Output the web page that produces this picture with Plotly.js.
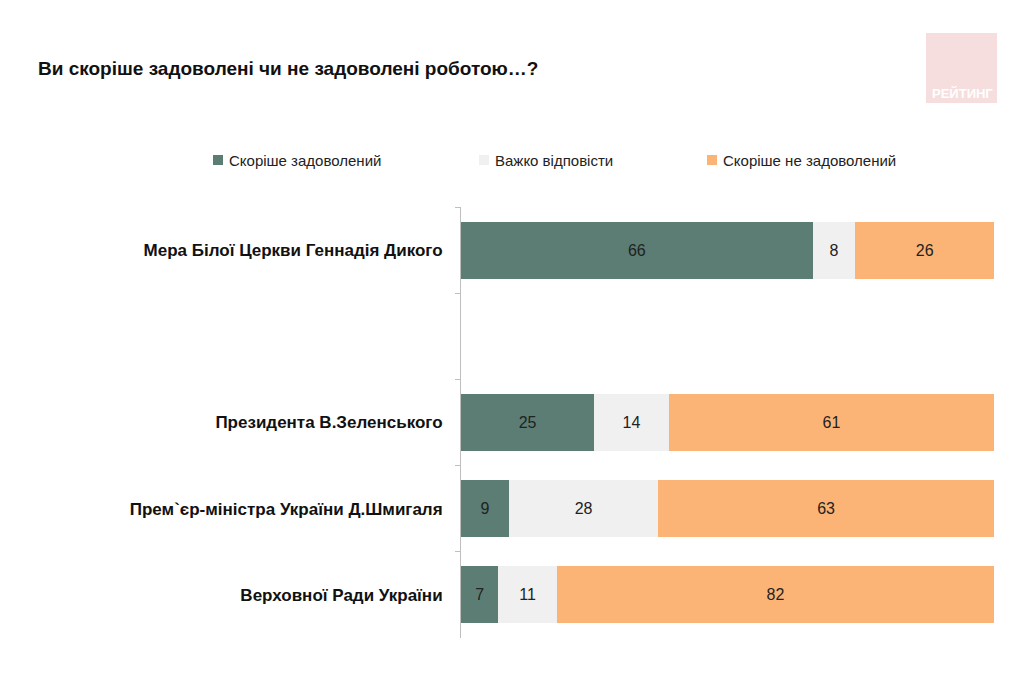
<!DOCTYPE html>
<html><head><meta charset="utf-8">
<script src="https://cdn.plot.ly/plotly-3.0.1.min.js"></script>
<style>body{margin:0;background:#fff}#chart{width:1024px;height:700px}</style>
</head><body><div id="chart"></div>
<script>
const categories = ["Мера Білої Церкви Геннадія Дикого", " ", "Президента В.Зеленського", "Прем`єр-міністра України Д.Шмигаля", "Верховної Ради України"];
const satisfied = [66, null, 25, 9, 7];
const hardToSay = [8, null, 14, 28, 11];
const notSatisfied = [26, null, 61, 63, 82];
const seriesNames = ["Скоріше задоволений", "Важко відповісти", "Скоріше не задоволений"];
const colors = ["#5b7d73", "#f0f0f0", "#fcb476"];

const L = 461, R = 994, T = 207, B = 638;
const px = x => (x - L) / (R - L);
const py = y => (B - y) / (B - T);
const FONT = "Liberation Sans, Arial, sans-serif";

const series = [satisfied, hardToSay, notSatisfied];
const traces = series.map((vals, i) => ({
  type: "bar", orientation: "h", name: seriesNames[i],
  y: categories, x: vals,
  marker: {color: colors[i]},
  text: vals.map(v => v == null ? "" : String(v)),
  textposition: "inside", insidetextanchor: "middle",
  textfont: {family: FONT, size: 16, color: "#222"},
  constraintext: "none", cliponaxis: false,
  hoverinfo: "none", showlegend: false
}));

// legend drawn as squares + labels
const legendSquareX = [213, 479, 707];
const legendShapes = legendSquareX.map((x, i) => ({
  type: "rect", xref: "paper", yref: "paper", x0: px(x), x1: px(x + 10), y0: py(165), y1: py(155),
  fillcolor: colors[i], line: {width: 0}
}));
const legendAnn = legendSquareX.map((x, i) => ({
  xref: "paper", yref: "paper", x: px(x + 14), y: py(160), xanchor: "left", yanchor: "middle",
  text: seriesNames[i], showarrow: false, font: {family: FONT, size: 15, color: "#222"}
}));

const layout = {
  width: 1024, height: 700,
  margin: {l: L, r: 1024 - R, t: T, b: 700 - B},
  paper_bgcolor: "#fff", plot_bgcolor: "#fff",
  barmode: "stack", bargap: 0.34,
  title: {text: "Ви скоріше задоволені чи не задоволені роботою…?", x: 38/1024, xanchor: "left", y: 1 - 68/700, yanchor: "middle",
    font: {family: FONT, size: 19, color: "#111", weight: "bold"}},
  xaxis: {range: [0, 100], visible: false, fixedrange: true},
  yaxis: {type: "category", categoryorder: "array", categoryarray: categories, autorange: "reversed",
    showline: true, linecolor: "#bfbfbf", linewidth: 1, ticks: "outside", ticklen: 5, tickcolor: "#bfbfbf",
    tickson: "boundaries", showgrid: false, zeroline: false, ticklabelstandoff: 14,
    tickfont: {family: FONT, size: 17, color: "#111", weight: "bold"}},
  showlegend: false,
  shapes: [{type: "rect", xref: "paper", yref: "paper", x0: px(926), x1: px(997), y0: py(103), y1: py(33),
    fillcolor: "#f6dede", line: {width: 0}, layer: "below"}].concat(legendShapes),
  annotations: [{xref: "paper", yref: "paper", x: px(962), y: py(93), text: "<b>РЕЙТИНГ</b>", showarrow: false,
    font: {family: FONT, size: 13, color: "#fff"}, xanchor: "center", yanchor: "middle"}].concat(legendAnn)
};

Plotly.newPlot("chart", traces, layout, {displayModeBar: false, staticPlot: true});
</script></body></html>
